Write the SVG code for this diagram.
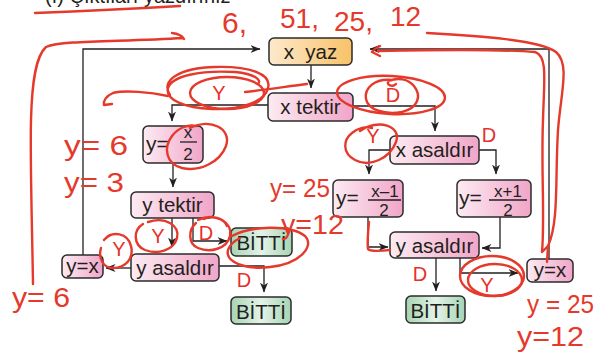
<svg xmlns="http://www.w3.org/2000/svg" width="614" height="354" viewBox="0 0 614 354">
  <defs>
    <linearGradient id="gPink" x1="0" y1="0" x2="1" y2="0">
      <stop offset="0" stop-color="#fcebf2"/>
      <stop offset="1" stop-color="#f1a5c8"/>
    </linearGradient>
    <linearGradient id="gOrange" x1="0" y1="0" x2="1" y2="0">
      <stop offset="0" stop-color="#fde9cc"/>
      <stop offset="1" stop-color="#f8c268"/>
    </linearGradient>
    <linearGradient id="gGreen" x1="0" y1="0" x2="1" y2="0">
      <stop offset="0" stop-color="#a6d4b3"/>
      <stop offset="0.5" stop-color="#e4f3e8"/>
      <stop offset="1" stop-color="#a6d4b3"/>
    </linearGradient>
    <marker id="arrow" viewBox="0 0 10 8" refX="9.5" refY="4" markerWidth="10" markerHeight="8" markerUnits="userSpaceOnUse" orient="auto">
      <path d="M0,0 L10,4 L0,8 L3,4 z" fill="#231f20"/>
    </marker>
  </defs>
  <style>
    .box { stroke: #2b2b2b; stroke-width: 1.5; }
    .pink { fill: url(#gPink); }
    .orange { fill: url(#gOrange); }
    .green { fill: url(#gGreen); }
    .lbl { font-family: "Liberation Sans", Arial, sans-serif; font-size: 20.5px; fill: #231f20; text-anchor: middle; }
    .frac { font-family: "Liberation Sans", Arial, sans-serif; font-size: 17px; fill: #231f20; text-anchor: middle; }
    .eq { font-family: "Liberation Sans", Arial, sans-serif; font-size: 21px; fill: #231f20; }
    .conn { fill: none; stroke: #231f20; stroke-width: 1.3; }
    .yd { font-family: "Liberation Sans", Arial, sans-serif; font-size: 20px; fill: #e8302a; text-anchor: middle; }
    .ink { fill: none; stroke: #e5392c; stroke-width: 2.4; stroke-linecap: round; stroke-linejoin: round; }
    .hand { font-family: "Liberation Sans", Arial, sans-serif; fill: #e5392c; }
  </style>

  <rect width="614" height="354" fill="#ffffff"/>

  <!-- heading line, cut off at the top edge -->
  <text x="45" y="3" font-family="Liberation Sans, Arial, sans-serif" font-size="20" fill="#231f20">(f) Çıktıları yazdırınız</text>

  <!-- connectors -->
  <g id="connectors">
    <path class="conn" d="M83,255 V49 H260" marker-end="url(#arrow)"/>
    <path class="conn" d="M311,65 V88" marker-end="url(#arrow)"/>
    <path class="conn" d="M268,105 H172 V121" marker-end="url(#arrow)"/>
    <path class="conn" d="M353,106 H435 V131" marker-end="url(#arrow)"/>
    <path class="conn" d="M173,163 V187" marker-end="url(#arrow)"/>
    <path class="conn" d="M172,218 V247" marker-end="url(#arrow)"/>
    <path class="conn" d="M193,218 V241 H227" marker-end="url(#arrow)"/>
    <path class="conn" d="M131,268 H106" marker-end="url(#arrow)"/>
    <path class="conn" d="M219,266 H264 V292" marker-end="url(#arrow)"/>
    <path class="conn" d="M390,150 H369 V174" marker-end="url(#arrow)"/>
    <path class="conn" d="M479,150 H496 V174" marker-end="url(#arrow)"/>
    <path class="conn" d="M368,217 V247 H388" marker-end="url(#arrow)"/>
    <path class="conn" d="M500,217 V248 H482" marker-end="url(#arrow)"/>
    <path class="conn" d="M436,258 V291" marker-end="url(#arrow)"/>
    <path class="conn" d="M460,258 V273 H518" marker-end="url(#arrow)"/>
    <path class="conn" d="M549,259 V49 H370" marker-end="url(#arrow)"/>
  </g>

  <!-- branch labels -->
  <g id="branch-labels">
    <text class="yd" x="219" y="100">Y</text>
    <text class="yd" x="393" y="102">D</text>
    <text class="yd" x="373" y="143">Y</text>
    <text class="yd" x="489" y="142">D</text>
    <text class="yd" x="158" y="243">Y</text>
    <text class="yd" x="206" y="240">D</text>
    <text class="yd" x="119" y="256">Y</text>
    <text class="yd" x="244" y="287">D</text>
    <text class="yd" x="420" y="281">D</text>
    <text class="yd" x="487" y="292">Y</text>
  </g>

  <!-- nodes -->
  <g id="n-xyaz">
    <rect class="box orange" x="269" y="38" width="83" height="27" rx="5"/>
    <text class="lbl" x="310.5" y="59" xml:space="preserve">x  yaz</text>
  </g>
  <g id="n-xtektir">
    <rect class="box pink" x="268" y="93" width="85" height="28" rx="5"/>
    <text class="lbl" x="310.5" y="114">x tektir</text>
  </g>
  <g id="n-yx2">
    <rect class="box pink" x="143" y="126" width="60" height="37" rx="5"/>
    <text class="eq" x="146" y="151">y=</text>
    <text class="frac" x="188" y="138" font-size="18">x</text>
    <line x1="180" y1="142" x2="197" y2="142" stroke="#231f20" stroke-width="1.3"/>
    <text class="frac" x="188" y="159.5" font-size="18">2</text>
  </g>
  <g id="n-xasal">
    <rect class="box pink" x="390" y="136" width="89" height="28" rx="5"/>
    <text class="lbl" x="434.5" y="157">x asaldır</text>
  </g>
  <g id="n-yxm1">
    <rect class="box pink" x="333" y="180" width="70" height="37" rx="5"/>
    <text class="eq" x="336" y="205">y=</text>
    <text class="frac" x="385" y="196.5">x–1</text>
    <line x1="368" y1="200" x2="401" y2="200" stroke="#231f20" stroke-width="1.3"/>
    <text class="frac" x="384" y="215.5">2</text>
  </g>
  <g id="n-yxp1">
    <rect class="box pink" x="457" y="180" width="74" height="37" rx="5"/>
    <text class="eq" x="459" y="205">y=</text>
    <text class="frac" x="508" y="196.5">x+1</text>
    <line x1="489" y1="200" x2="527" y2="200" stroke="#231f20" stroke-width="1.3"/>
    <text class="frac" x="508" y="215.5">2</text>
  </g>
  <g id="n-ytektir">
    <rect class="box pink" x="131" y="192" width="83" height="26" rx="5"/>
    <text class="lbl" x="172.5" y="212">y tektir</text>
  </g>
  <g id="n-bitti1">
    <rect class="box green" x="231" y="228" width="61" height="28" rx="5"/>
    <text class="lbl" x="261.5" y="250">BİTTİ</text>
  </g>
  <g id="n-yasal1">
    <rect class="box pink" x="131" y="254" width="88" height="27" rx="5"/>
    <text class="lbl" x="175" y="275">y asaldır</text>
  </g>
  <g id="n-yx-left">
    <rect class="box pink" x="62" y="255" width="41" height="23" rx="5"/>
    <text class="lbl" x="82.5" y="273">y=x</text>
  </g>
  <g id="n-bitti2">
    <rect class="box green" x="231" y="297" width="60" height="27" rx="5"/>
    <text class="lbl" x="261" y="319">BİTTİ</text>
  </g>
  <g id="n-yasal2">
    <rect class="box pink" x="390" y="232" width="89" height="26" rx="5"/>
    <text class="lbl" x="434.5" y="253">y asaldır</text>
  </g>
  <g id="n-bitti3">
    <rect class="box green" x="406" y="296" width="59" height="27" rx="5"/>
    <text class="lbl" x="435.5" y="318">BİTTİ</text>
  </g>
  <g id="n-yx-right">
    <rect class="box pink" x="527" y="259" width="46" height="23" rx="5"/>
    <text class="lbl" x="550" y="277">y=x</text>
  </g>

  <!-- red pen marks -->
  <g id="pen-strokes">
    <path class="ink" d="M35,13 Q110,10 180,6"/>
    <path class="ink" d="M33,284 C32,220 30,160 31,120 C32,80 36,56 46,47 C62,40 120,42 183,38 M172,33 Q181,34 184,39"/>
    <!-- loops round the top Y -->
    <path class="ink" d="M170,95 C160,80 180,68 215,67 C250,66 272,74 268,88 C265,102 240,110 212,109 C185,108 165,100 168,88 C172,76 200,70 235,72 C255,74 262,80 258,84"/>
    <ellipse class="ink" cx="227" cy="93" rx="37" ry="16"/>
    <path class="ink" d="M168,96 C150,92 125,90 113,93 C106,96 103,101 104,105 L112,104"/>
    <path class="ink" d="M245,92 C265,90 290,86 307,84"/>
    <!-- loops round the top D -->
    <ellipse class="ink" cx="391" cy="95" rx="54" ry="19" transform="rotate(3 391 95)"/>
    <path class="ink" d="M392,80 C375,78 364,88 366,99 C368,110 385,115 402,112 C418,108 422,96 414,86 C408,79 398,77 389,81 C385,84 392,88 396,84"/>
    <!-- long loop down the right side -->
    <path class="ink" d="M427,33 C480,36 540,40 556,52 C570,64 561,92 558,130 C555,180 559,222 548,246"/>
    <path class="ink" d="M380,46 Q374,49 372,52 L380,56 M378,51 C430,50 500,49 535,52 C548,56 544,80 543,120 C541,170 545,220 542,252 L548,246 L547,262"/>
    <!-- ring round x/2 -->
    <path class="ink" d="M190,128 C210,118 232,128 226,146 C220,162 200,172 182,168 C166,164 163,148 172,136 C178,128 188,124 196,126"/>
    <!-- ring round the Y above y=(x-1)/2 -->
    <path class="ink" d="M360,131 C378,118 402,126 396,142 C390,158 370,168 355,160 C342,153 343,140 352,133 C358,128 366,126 372,128"/>
    <!-- rings at y tektir -->
    <path class="ink" d="M148,222 C166,216 180,226 177,238 C174,250 158,255 145,250 C133,245 133,230 143,224"/>
    <path class="ink" d="M198,220 C215,212 233,222 230,236 C227,249 210,253 198,248 C188,244 188,230 196,223 M204,219 C212,215 224,218 227,226"/>
    <path class="ink" d="M232,236 C250,226 290,224 305,236 C315,246 300,264 270,267 C245,270 225,262 228,250 C230,244 236,240 240,238"/>
    <path class="ink" d="M104,240 C112,230 128,233 131,246 C134,258 126,268 113,268 C103,268 98,258 101,248"/>
    <!-- trace along the y=(x-1)/2 exit -->
    <path class="ink" d="M369,222 C368,232 367,242 368,249 Q370,252 390,250"/>
    <!-- rings round the bottom-right Y -->
    <ellipse class="ink" cx="492" cy="276" rx="32" ry="20"/>
    <ellipse class="ink" cx="495" cy="280" rx="27" ry="16"/>
  </g>

  <!-- handwritten values -->
  <g id="pen-text">
    <text class="hand" x="222" y="33" font-size="30">6,</text>
    <text class="hand" x="280" y="28" font-size="28">51,</text>
    <text class="hand" x="334" y="31" font-size="28">25,</text>
    <text class="hand" x="390" y="26" font-size="28">12</text>
    <text class="hand" x="64" y="155" font-size="28" textLength="64" lengthAdjust="spacingAndGlyphs">y= 6</text>
    <text class="hand" x="64" y="192" font-size="28" textLength="60" lengthAdjust="spacingAndGlyphs">y= 3</text>
    <text class="hand" x="270" y="197" font-size="25" textLength="60" lengthAdjust="spacingAndGlyphs">y= 25</text>
    <text class="hand" x="281" y="234" font-size="27" textLength="63" lengthAdjust="spacingAndGlyphs">y=12</text>
    <text class="hand" x="12" y="307" font-size="27" textLength="58" lengthAdjust="spacingAndGlyphs">y= 6</text>
    <text class="hand" x="527" y="313" font-size="25" textLength="67" lengthAdjust="spacingAndGlyphs">y = 25</text>
    <text class="hand" x="517" y="346" font-size="27" textLength="67" lengthAdjust="spacingAndGlyphs">y=12</text>
  </g>
</svg>
